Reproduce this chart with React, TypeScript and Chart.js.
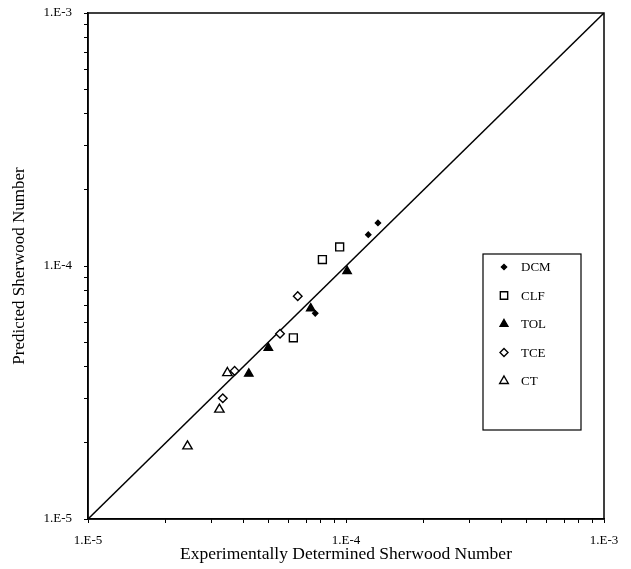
import React, { useEffect, useRef } from "react";
import { Chart, registerables } from "chart.js";

Chart.register(...registerables);

// ---- data ----
const seriesLabels = ["DCM", "CLF", "TOL", "TCE", "CT"];

const dcmX = [1.22e-4, 1.33e-4, 7.6e-5];
const dcmY = [1.33e-4, 1.48e-4, 6.5e-5];

const clfX = [8.1e-5, 9.45e-5, 6.25e-5];
const clfY = [1.06e-4, 1.19e-4, 5.2e-5];

const tolX = [1.01e-4, 7.3e-5, 5.0e-5, 4.2e-5];
const tolY = [9.55e-5, 6.8e-5, 4.75e-5, 3.75e-5];

const tceX = [6.5e-5, 5.55e-5, 3.7e-5, 3.33e-5];
const tceY = [7.6e-5, 5.4e-5, 3.85e-5, 3.0e-5];

const ctX = [3.47e-5, 3.23e-5, 2.43e-5];
const ctY = [3.78e-5, 2.71e-5, 1.94e-5];

const parityLine = [1e-5, 1e-3];

const axisMin = 1e-5;
const axisMax = 1e-3;
const decadeExps = [-5, -4];
const minorMultipliers = [1, 2, 3, 4, 5, 6, 7, 8, 9];

const xTitle = "Experimentally Determined Sherwood Number";
const yTitle = "Predicted Sherwood Number";

const SERIF = "'Liberation Serif', 'Times New Roman', serif";

function pts(xs: number[], ys: number[]) {
  return xs.map((x, i) => ({ x, y: ys[i] }));
}

function tickLabel(value: number): string {
  const e = Math.log10(value);
  if (Math.abs(e - Math.round(e)) < 1e-9) return `1.E${Math.round(e)}`;
  return "";
}

function buildTicks(scale: any) {
  const t: { value: number }[] = [];
  decadeExps.forEach((e) => {
    minorMultipliers.forEach((m) => {
      t.push({ value: parseFloat((m * Math.pow(10, e)).toPrecision(6)) });
    });
  });
  t.push({ value: axisMax });
  scale.ticks = t.filter((v) => v.value >= axisMin && v.value <= axisMax);
}

function drawMarker(
  ctx: CanvasRenderingContext2D,
  style: string,
  x: number,
  y: number,
  r: number,
  fill: string,
  stroke: string,
  lw: number
) {
  ctx.save();
  ctx.beginPath();
  if (style === "rect") {
    const s = Math.SQRT1_2 * r;
    ctx.rect(x - s, y - s, 2 * s, 2 * s);
  } else if (style === "rectRot") {
    ctx.moveTo(x, y - r);
    ctx.lineTo(x + r, y);
    ctx.lineTo(x, y + r);
    ctx.lineTo(x - r, y);
    ctx.closePath();
  } else if (style === "triangle") {
    let a = 0;
    for (let i = 0; i < 3; i++) {
      const px = x + Math.sin(a) * r;
      const py = y - Math.cos(a) * r;
      if (i === 0) ctx.moveTo(px, py);
      else ctx.lineTo(px, py);
      a += (2 * Math.PI) / 3;
    }
    ctx.closePath();
  }
  ctx.fillStyle = fill;
  ctx.fill();
  ctx.lineWidth = lw;
  ctx.strokeStyle = stroke;
  ctx.stroke();
  ctx.restore();
}

const framePlugin = {
  id: "frame",
  afterDatasetsDraw(chart: any) {
    const { ctx, chartArea } = chart;
    ctx.save();
    ctx.strokeStyle = "#000";
    ctx.lineWidth = 1.5;
    ctx.strokeRect(
      chartArea.left,
      chartArea.top,
      chartArea.right - chartArea.left,
      chartArea.bottom - chartArea.top
    );
    ctx.restore();
  },
};

const boxLegendPlugin = {
  id: "boxLegend",
  afterDraw(chart: any) {
    const { ctx, chartArea } = chart;
    const left = chartArea.left + 395;
    const top = chartArea.top + 241;
    const w = 98;
    const h = 176;
    ctx.save();
    ctx.fillStyle = "#fff";
    ctx.fillRect(left, top, w, h);
    ctx.strokeStyle = "#000";
    ctx.lineWidth = 1.2;
    ctx.strokeRect(left, top, w, h);
    const items = chart.data.datasets.filter((d: any) => d.inLegend);
    items.forEach((d: any, i: number) => {
      const cy = top + 13 + i * 28.5;
      drawMarker(
        ctx,
        d.pointStyle,
        left + 21,
        cy,
        d.legendRadius,
        d.backgroundColor,
        "#000",
        d.pointBorderWidth
      );
      ctx.fillStyle = "#000";
      ctx.font = `13px ${SERIF}`;
      ctx.textBaseline = "middle";
      ctx.textAlign = "left";
      ctx.fillText(d.label, left + 38, cy + 1);
    });
    ctx.restore();
  },
};

export default function App() {
  const ref = useRef<HTMLCanvasElement | null>(null);

  useEffect(() => {
    if (!ref.current) return;
    const mk = (
      label: string,
      xs: number[],
      ys: number[],
      style: string,
      r: number,
      lr: number,
      filled: boolean
    ) => ({
      label,
      data: pts(xs, ys),
      pointStyle: style,
      pointRadius: r,
      legendRadius: lr,
      pointBorderWidth: 1.4,
      pointBorderColor: "#000",
      pointBackgroundColor: filled ? "#000" : "#fff",
      backgroundColor: filled ? "#000" : "#fff",
      borderColor: "#000",
      showLine: false,
      inLegend: true,
    });

    const chart = new Chart(ref.current, {
      type: "scatter",
      data: {
        datasets: [
          mk(seriesLabels[0], dcmX, dcmY, "rectRot", 2.6, 2.6, true),
          mk(seriesLabels[1], clfX, clfY, "rect", 5.6, 5.2, false),
          mk(seriesLabels[2], tolX, tolY, "triangle", 4.8, 4.5, true),
          mk(seriesLabels[3], tceX, tceY, "rectRot", 4.3, 4.0, false),
          mk(seriesLabels[4], ctX, ctY, "triangle", 5.4, 5.0, false),
          {
            label: "parity",
            data: pts(parityLine, parityLine),
            showLine: true,
            borderColor: "#000",
            borderWidth: 1.5,
            pointRadius: 0,
            fill: false,
            inLegend: false,
          } as any,
        ] as any,
      },
      options: {
        animation: false,
        responsive: true,
        maintainAspectRatio: false,
        layout: { padding: { left: 0, right: 27, top: 13, bottom: 0 } },
        plugins: {
          legend: { display: false },
          tooltip: { enabled: false },
        },
        scales: {
          x: {
            type: "logarithmic",
            min: axisMin,
            max: axisMax,
            afterBuildTicks: buildTicks,
            afterFit: (s: any) => {
              s.height = 50;
              s.paddingLeft = 0;
              s.paddingRight = 0;
            },
            grid: {
              display: true,
              drawOnChartArea: false,
              drawTicks: true,
              tickLength: 4,
              color: "#000",
              lineWidth: 1,
            },
            border: { display: true, color: "#000", width: 1.5 },
            ticks: {
              autoSkip: false,
              maxRotation: 0,
              minRotation: 0,
              padding: 10,
              color: "#000",
              font: { family: SERIF, size: 13 },
              callback: (v: any) => tickLabel(Number(v)),
            },
            title: {
              display: true,
              text: xTitle,
              color: "#000",
              font: { family: SERIF, size: 17.5 },
              padding: 4,
            },
          },
          y: {
            type: "logarithmic",
            min: axisMin,
            max: axisMax,
            afterBuildTicks: buildTicks,
            afterFit: (s: any) => {
              s.width = 88;
              s.paddingTop = 0;
              s.paddingBottom = 0;
            },
            grid: {
              display: true,
              drawOnChartArea: false,
              drawTicks: true,
              tickLength: 4,
              color: "#000",
              lineWidth: 1,
            },
            border: { display: true, color: "#000", width: 1.5 },
            ticks: {
              autoSkip: false,
              padding: 12,
              color: "#000",
              font: { family: SERIF, size: 13 },
              callback: (v: any) => tickLabel(Number(v)),
            },
            title: {
              display: true,
              text: yTitle,
              color: "#000",
              font: { family: SERIF, size: 17 },
              padding: 9,
            },
          },
        },
      } as any,
      plugins: [framePlugin, boxLegendPlugin],
    });
    return () => chart.destroy();
  }, []);

  return (
    <div
      style={{
        position: "absolute",
        left: 0,
        top: 0,
        width: 631,
        height: 569,
        background: "#fff",
      }}
    >
      <canvas ref={ref} />
    </div>
  );
}
